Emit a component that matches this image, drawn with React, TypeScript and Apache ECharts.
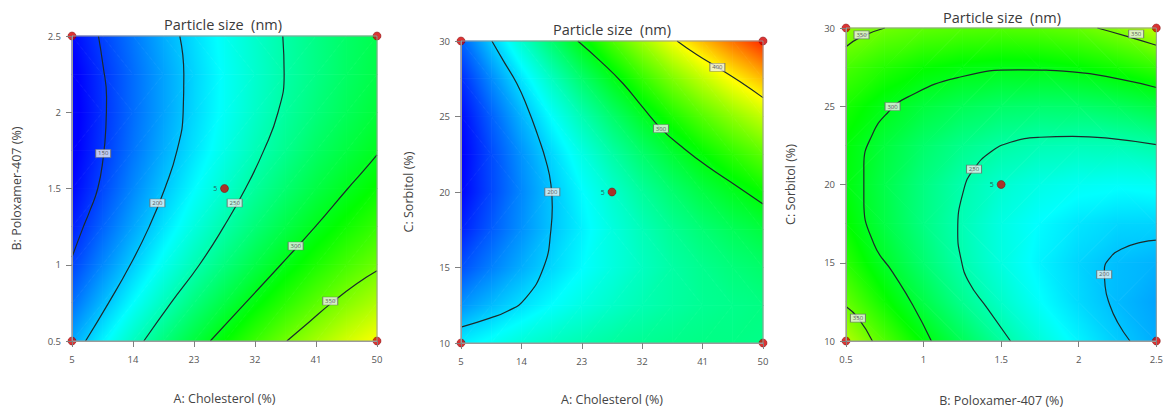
import React, { useEffect, useRef } from "react";
import * as echarts from "echarts";

// ---------- tick labels ----------
const A_TICKS = [5, 14, 23, 32, 41, 50];
const B_TICKS = [0.5, 1, 1.5, 2, 2.5];
const C_TICKS = [10, 15, 20, 25, 30];

// ---------- panel 1 : A (Cholesterol) x B (Poloxamer-407) ----------
const P1_X = [5, 9.5, 14, 18.5, 23, 27.5, 32, 36.5, 41, 45.5, 50];
const P1_Y = [0.5, 0.75, 1, 1.25, 1.5, 1.75, 2, 2.25, 2.5];
// particle size read at the nodes, rows from bottom (y = 0.5) to top (y = 2.5)
const P1_Z = [
  [189, 216, 242, 266, 288, 310, 330, 349, 367, 384, 399],
  [169, 195, 220, 243, 266, 286, 306, 324, 341, 357, 371],
  [153, 178, 202, 225, 246, 266, 285, 303, 319, 334, 348],
  [140, 165, 188, 210, 231, 250, 268, 285, 301, 315, 328],
  [131, 155, 178, 199, 219, 237, 255, 271, 286, 299, 312],
  [126, 149, 171, 191, 210, 228, 245, 260, 275, 287, 299],
  [124, 147, 168, 187, 206, 223, 239, 254, 267, 279, 290],
  [126, 148, 168, 187, 205, 222, 237, 251, 263, 275, 285],
  [132, 153, 172, 191, 208, 224, 238, 251, 263, 274, 283],
];
const P1_C150 = [[8.9, 2.5], [9.6, 2.3], [10.1, 2.1], [10.0, 1.9], [9.6, 1.7], [8.8, 1.5], [7.6, 1.35], [6.6, 1.24], [5, 1.05]];
const P1_C200 = [[20.9, 2.5], [21.5, 2.25], [21.4, 2.0], [20.5, 1.75], [18.7, 1.5], [16.4, 1.25], [13.6, 1.0], [10.4, 0.75], [7.0, 0.5]];
const P1_C250 = [[36.1, 2.5], [36.3, 2.25], [35.4, 2.0], [33.3, 1.75], [30.6, 1.5], [27.4, 1.25], [23.8, 1.0], [19.6, 0.75], [15.6, 0.5]];
const P1_C300 = [[50, 1.72], [47.9, 1.61], [45.7, 1.5], [40.9, 1.25], [35.8, 1.0], [30.6, 0.75], [25.4, 0.5]];
const P1_C350 = [[50, 0.96], [47, 0.875], [43.3, 0.75], [40.0, 0.625], [36.7, 0.5]];
const P1_LABELS = [[9.6, 1.73, "150"], [17.6, 1.405, "200"], [29.0, 1.405, "250"], [38.0, 1.123, "300"], [43.1, 0.762, "350"]];
const P1_POINTS = [[5, 0.5, 1], [50, 0.5, 1], [5, 2.5, 1], [50, 2.5, 1], [27.5, 1.5, 5]];

// ---------- panel 2 : A (Cholesterol) x C (Sorbitol) ----------
const P2_X = [5, 9.5, 14, 18.5, 23, 27.5, 32, 36.5, 41, 45.5, 50];
const P2_Y = [10, 12.5, 15, 17.5, 20, 22.5, 25, 27.5, 30];
const P2_Z = [
  [214, 224, 234, 242, 248, 254, 258, 261, 263, 263, 262],
  [182, 196, 209, 220, 230, 239, 247, 253, 258, 261, 264],
  [158, 175, 191, 206, 219, 231, 242, 252, 260, 267, 273],
  [141, 162, 181, 199, 215, 231, 245, 258, 269, 279, 288],
  [131, 155, 178, 199, 219, 237, 255, 271, 286, 299, 312],
  [129, 156, 182, 206, 229, 251, 272, 291, 309, 326, 342],
  [133, 164, 193, 221, 247, 272, 296, 319, 340, 360, 379],
  [145, 179, 211, 242, 272, 300, 328, 354, 378, 402, 424],
  [164, 201, 237, 271, 304, 336, 366, 396, 424, 450, 476],
];
const P2_C200 = [[9.6, 30], [11.3, 28.7], [13.3, 27.2], [14.9, 25.6], [16.4, 23.8], [17.7, 22.0], [18.4, 20.5], [18.6, 19.0], [18.4, 17.5], [17.3, 15.0], [14.5, 12.9], [11.9, 12.1], [9.3, 11.65], [5, 11.05]];
const P2_C300 = [[22.4, 30], [25.8, 28.65], [29.1, 27.2], [32.0, 25.65], [34.8, 24.2], [38.3, 22.85], [41.7, 21.7], [45.9, 20.45], [50, 19.2]];
const P2_C400 = [[37.2, 30], [40.1, 29.1], [43.2, 28.26], [46.6, 27.3], [50, 26.25]];
const P2_LABELS = [[18.6, 20.0, "200"], [34.8, 24.2, "300"], [43.2, 28.26, "400"]];
const P2_POINTS = [[5, 10, 1], [50, 10, 1], [5, 30, 1], [50, 30, 1], [27.5, 20, 5]];

// ---------- panel 3 : B (Poloxamer-407) x C (Sorbitol) ----------
const P3_X = [0.5, 0.75, 1, 1.25, 1.5, 1.75, 2, 2.25, 2.5];
const P3_Y = [10, 12.5, 15, 17.5, 20, 22.5, 25, 27.5, 30];
const P3_Z = [
  [373, 338, 307, 279, 254, 233, 216, 202, 191],
  [345, 314, 285, 260, 239, 221, 207, 196, 188],
  [325, 296, 271, 249, 231, 216, 205, 197, 193],
  [312, 286, 264, 246, 230, 219, 211, 206, 205],
  [306, 284, 265, 249, 237, 229, 224, 222, 224],
  [308, 289, 273, 261, 252, 247, 245, 246, 251],
  [318, 302, 289, 280, 274, 272, 273, 278, 286],
  [335, 322, 312, 306, 303, 304, 309, 317, 328],
  [360, 349, 343, 340, 339, 341, 346, 357, 377],
];
const P3_C350A = [[0.5, 28.8], [0.6, 29.45], [0.75, 30]];
const P3_C350B = [[2.12, 30], [2.3, 29.5], [2.5, 28.9]];
const P3_C350C = [[0.5, 12.2], [0.58, 11.45], [0.67, 10]];
const P3_C300 = [[2.5, 26.2], [2.28, 26.7], [1.96, 27.2], [1.62, 27.33], [1.22, 26.83], [0.9, 25.6], [0.77, 24.6], [0.67, 23.2], [0.615, 21.2], [0.615, 19.0], [0.68, 16.2], [0.8, 14.4], [0.93, 12.3], [1.05, 10]];
const P3_C250 = [[2.5, 22.55], [2.2, 22.95], [1.96, 23.08], [1.75, 23.02], [1.56, 22.7], [1.43, 22.06], [1.325, 21.0], [1.26, 19.7], [1.22, 17.0], [1.24, 15.3], [1.29, 13.8], [1.41, 12.1], [1.56, 10]];
const P3_C200 = [[2.5, 16.45], [2.4, 16.3], [2.28, 15.9], [2.2, 15.3], [2.165, 14.5], [2.17, 13.5], [2.2, 12.3], [2.25, 11.2], [2.33, 10]];
const P3_LABELS = [[0.6, 29.56, "350"], [2.37, 29.62, "350"], [0.8, 24.98, "300"], [1.325, 20.98, "250"], [2.164, 14.25, "200"], [0.577, 11.46, "350"]];
const P3_POINTS = [[0.5, 10, 1], [2.5, 10, 1], [0.5, 30, 1], [2.5, 30, 1], [1.5, 20, 5]];

// ---------- styling ----------
const COLOR_KNOTS: [number, number[]][] = [
  [130, [0, 0, 255]],
  [220, [0, 255, 255]],
  [310, [0, 255, 0]],
  [400, [255, 255, 0]],
  [490, [255, 0, 0]],
];
const FONT = "'Open Sans', 'Noto Sans', sans-serif";

function colorAt(v: number): string {
  const first = COLOR_KNOTS[0], last = COLOR_KNOTS[COLOR_KNOTS.length - 1];
  let c = first[1];
  if (v <= first[0]) c = first[1];
  else if (v >= last[0]) c = last[1];
  else {
    for (let i = 0; i < COLOR_KNOTS.length - 1; i++) {
      const [a, ca] = COLOR_KNOTS[i];
      const [b, cb] = COLOR_KNOTS[i + 1];
      if (v >= a && v <= b) {
        const t = (v - a) / (b - a);
        c = [0, 1, 2].map((k) => ca[k] + (cb[k] - ca[k]) * t);
        break;
      }
    }
  }
  return `rgb(${Math.round(c[0])},${Math.round(c[1])},${Math.round(c[2])})`;
}

function triangle(a: number[], b: number[], c: number[], va: number, vb: number, vc: number) {
  const pts = [a, b, c];
  const vals = [va, vb, vc];
  const d1x = b[0] - a[0], d1y = b[1] - a[1];
  const d2x = c[0] - a[0], d2y = c[1] - a[1];
  const det = d1x * d2y - d1y * d2x;
  let imin = 0, imax = 0;
  for (let k = 1; k < 3; k++) {
    if (vals[k] < vals[imin]) imin = k;
    if (vals[k] > vals[imax]) imax = k;
  }
  const vmin = vals[imin], vmax = vals[imax];
  let fill: any = colorAt((va + vb + vc) / 3);
  if (Math.abs(det) > 1e-9 && vmax - vmin > 0.05) {
    const dv1 = vb - va, dv2 = vc - va;
    const gx = (dv1 * d2y - d1y * dv2) / det;
    const gy = (d1x * dv2 - dv1 * d2x) / det;
    const g2 = gx * gx + gy * gy;
    if (g2 > 1e-12) {
      const k = (vmax - vmin) / g2;
      const sx = pts[imin][0], sy = pts[imin][1];
      const stops: any[] = [{ offset: 0, color: colorAt(vmin) }];
      for (const [kv] of COLOR_KNOTS) {
        if (kv > vmin && kv < vmax) stops.push({ offset: (kv - vmin) / (vmax - vmin), color: colorAt(kv) });
      }
      stops.push({ offset: 1, color: colorAt(vmax) });
      fill = { type: "linear", x: sx, y: sy, x2: sx + gx * k, y2: sy + gy * k, global: true, colorStops: stops };
    }
  }
  const stroke = typeof fill === "string" ? fill : { ...fill, colorStops: fill.colorStops.map((s: any) => ({ ...s })) };
  return { type: "polygon", shape: { points: pts }, style: { fill, stroke, lineWidth: 0.8 } };
}

function buildCells(xs: number[], ys: number[], z: number[][]) {
  const cells: number[][] = [];
  for (let j = 0; j < ys.length - 1; j++) {
    for (let i = 0; i < xs.length - 1; i++) {
      cells.push([xs[i], ys[j], xs[i + 1], ys[j + 1], z[j][i], z[j][i + 1], z[j + 1][i], z[j + 1][i + 1]]);
    }
  }
  return cells;
}

const PANELS = [
  {
    grid: { left: 72, top: 36, width: 305, height: 305 },
    xs: P1_X, ys: P1_Y, z: P1_Z,
    contours: [P1_C150, P1_C200, P1_C250, P1_C300, P1_C350],
    labels: P1_LABELS, points: P1_POINTS,
    xName: "A: Cholesterol (%)", yName: "B: Poloxamer-407 (%)",
    xMin: 5, xMax: 50, xTicks: A_TICKS, yMin: 0.5, yMax: 2.5, yTicks: B_TICKS,
    xGap: 51, yGap: 49, titleX: 223, titleY: 24,
  },
  {
    grid: { left: 461, top: 41, width: 302, height: 302 },
    xs: P2_X, ys: P2_Y, z: P2_Z,
    contours: [P2_C200, P2_C300, P2_C400],
    labels: P2_LABELS, points: P2_POINTS,
    xName: "A: Cholesterol (%)", yName: "C: Sorbitol (%)",
    xMin: 5, xMax: 50, xTicks: A_TICKS, yMin: 10, yMax: 30, yTicks: C_TICKS,
    xGap: 50, yGap: 46, titleX: 612, titleY: 29,
  },
  {
    grid: { left: 846, top: 28, width: 315, height: 315 },
    xs: P3_X, ys: P3_Y, z: P3_Z,
    contours: [P3_C350A, P3_C350B, P3_C300, P3_C250, P3_C200, P3_C350C],
    labels: P3_LABELS, points: P3_POINTS,
    xName: "B: Poloxamer-407 (%)", yName: "C: Sorbitol (%)",
    xMin: 0.5, xMax: 2.5, xTicks: B_TICKS, yMin: 10, yMax: 30, yTicks: C_TICKS,
    xGap: 53, yGap: 49, titleX: 1002, titleY: 17,
  },
];

function axisOf(idx: number, min: number, max: number, ticks: number[], name: string, gap: number, isX: boolean) {
  return {
    gridIndex: idx,
    type: "value",
    min,
    max,
    z: 10,
    axisTick: { show: true, customValues: ticks, length: 6, lineStyle: { color: "#808080" } },
    axisLabel: { customValues: ticks, margin: isX ? 13 : 11, fontSize: 9.5, color: "#555", fontFamily: FONT },
    axisLine: { show: true, onZero: false, lineStyle: { color: "#9a9a9a" } },
    splitLine: { show: false },
    name,
    nameLocation: "middle",
    nameGap: gap,
    nameTextStyle: { fontSize: 12.5, color: "#444", fontFamily: FONT },
  };
}

function buildOption() {
  const grid: any[] = [];
  const xAxis: any[] = [];
  const yAxis: any[] = [];
  const series: any[] = [];
  const graphic: any[] = [];
  PANELS.forEach((p, i) => {
    grid.push({ ...p.grid, show: true, z: 10, borderColor: "#9a9a9a", borderWidth: 1, backgroundColor: "transparent" });
    xAxis.push(axisOf(i, p.xMin, p.xMax, p.xTicks, p.xName, p.xGap, true));
    yAxis.push(axisOf(i, p.yMin, p.yMax, p.yTicks, p.yName, p.yGap, false));
    series.push({
      type: "custom",
      xAxisIndex: i,
      yAxisIndex: i,
      z: 1,
      silent: true,
      data: buildCells(p.xs, p.ys, p.z),
      renderItem: (_params: any, api: any) => {
        const x0 = api.value(0), y0 = api.value(1), x1 = api.value(2), y1 = api.value(3);
        const v00 = api.value(4), v10 = api.value(5), v01 = api.value(6), v11 = api.value(7);
        const p00 = api.coord([x0, y0]), p10 = api.coord([x1, y0]);
        const p01 = api.coord([x0, y1]), p11 = api.coord([x1, y1]);
        const children =
          Math.abs(v00 - v11) <= Math.abs(v10 - v01)
            ? [triangle(p00, p10, p11, v00, v10, v11), triangle(p00, p11, p01, v00, v11, v01)]
            : [triangle(p00, p10, p01, v00, v10, v01), triangle(p10, p11, p01, v10, v11, v01)];
        return { type: "group", children };
      },
    });
    p.contours.forEach((c) => {
      series.push({
        type: "line",
        xAxisIndex: i,
        yAxisIndex: i,
        data: c,
        smooth: 0.5,
        symbol: "none",
        silent: true,
        z: 3,
        lineStyle: { color: "#1c2b2b", width: 1.2 },
      });
    });
    series.push({
      type: "scatter",
      xAxisIndex: i,
      yAxisIndex: i,
      clip: false,
      silent: true,
      z: 4,
      symbol: "rect",
      symbolSize: [15, 8],
      itemStyle: { color: "#efefef", borderColor: "#6a6a6a", borderWidth: 0.8 },
      label: { show: true, position: "inside", fontSize: 6, color: "#333", fontFamily: FONT, formatter: (q: any) => q.name },
      data: p.labels.map((l) => ({ value: [l[0], l[1]], name: l[2] })),
    });
    series.push({
      type: "scatter",
      xAxisIndex: i,
      yAxisIndex: i,
      clip: false,
      silent: true,
      z: 5,
      symbol: "circle",
      symbolSize: 8,
      itemStyle: { color: "#d20000", borderColor: "#7a0000", borderWidth: 0.6 },
      data: p.points.map((pt) => ({
        value: [pt[0], pt[1]],
        label: { show: pt[2] > 1, formatter: String(pt[2]), position: "left", distance: 3, fontSize: 7, color: "#333", fontFamily: FONT },
      })),
    });
    graphic.push({
      type: "text",
      x: p.titleX,
      y: p.titleY,
      z: 20,
      style: {
        text: "Particle size  (nm)",
        font: `14.5px ${FONT}`,
        fill: "#3a3a3a",
        align: "center",
        verticalAlign: "middle",
        textAlign: "center",
        textVerticalAlign: "middle",
      },
    });
  });
  return { animation: false, backgroundColor: "#ffffff", grid, xAxis, yAxis, series, graphic };
}

export default function App() {
  const ref = useRef<HTMLDivElement>(null);
  useEffect(() => {
    if (!ref.current) return;
    const chart = echarts.init(ref.current, undefined, { renderer: "svg" });
    chart.setOption(buildOption() as any);
    return () => chart.dispose();
  }, []);
  return <div ref={ref} style={{ position: "fixed", left: 0, top: 0, width: 1166, height: 412 }} />;
}
